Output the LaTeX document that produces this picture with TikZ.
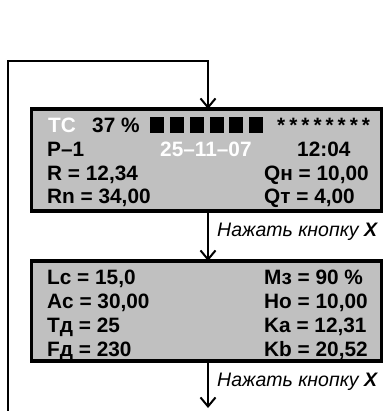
\documentclass[tikz,border=0pt]{standalone}
\usepackage{fontspec}
\setmainfont{Liberation Sans}
\usetikzlibrary{arrows.meta}
\definecolor{panelgray}{RGB}{192,192,192}
\begin{document}
\begin{tikzpicture}[x=1pt,y=-1pt,
  panel/.style={draw=black, fill=panelgray, line width=3.4pt, minimum width=350pt,
    inner sep=0pt, outer sep=0pt},
  txt/.style={anchor=base west, inner sep=0pt, font=\fontsize{20.8}{22}\selectfont\bfseries},
  wtxt/.style={txt, text=white},
  lbl/.style={anchor=base west, inner sep=0pt, font=\fontsize{19.5}{21}\selectfont\itshape},
  flow/.style={line width=2pt, -{Straight Barb[length=9pt,width=15pt,line width=2pt]}},
  blk/.style={fill=black, minimum width=14pt, minimum height=16pt, inner sep=0pt, anchor=north west}
]
\useasboundingbox (0,0) rectangle (384,411);

% display panels
\node[panel, minimum height=102pt] (box1) at (206.5,160) {};
\node[panel, minimum height=100pt] (box2) at (206.5,311) {};

% first screen
\node[wtxt] (tc) at (48,133) {TC};
\node[txt] (pct) at (92,133) {37 \%};
\foreach \i in {0,...,5}
  \node[blk] (b\i) at (150+\i*19.8,117) {};
\foreach \i in {0,...,7}
  \node[txt] (s\i) at (277+\i*12.1,133) {*};
\node[txt] (p1) at (47,157) {P–1};
\node[wtxt] (date) at (160,157) {25–11–07};
\node[txt] (time) at (297,157) {12:04};
\node[txt] (r) at (47,180.5) {R = 12,34};
\node[txt] (qh) at (264,180.5) {Qн = 10,00};
\node[txt] (rn) at (47,204) {Rn = 34,00};
\node[txt] (qt) at (264,204) {Qт = 4,00};

% second screen
\node[txt] (lc) at (47,284) {Lc = 15,0};
\node[txt] (mz) at (264,284) {Mз = 90 \%};
\node[txt] (ac) at (47,308) {Ac = 30,00};
\node[txt] (ho) at (264,308) {Ho = 10,00};
\node[txt] (td) at (47,332) {Tд = 25};
\node[txt] (ka) at (264,332) {Ka = 12,31};
\node[txt] (fd) at (47,356) {Fд = 230};
\node[txt] (kb) at (264,356) {Kb = 20,52};

% flow connectors
\coordinate (loopstart) at (8,411);
\coordinate (looptop) at (208,61);
\coordinate (exit) at (208,408);
\draw[flow] (loopstart) |- (looptop) -- (looptop |- box1.north);
\draw[flow] (box1.south -| looptop) -- (box2.north -| looptop);
\draw[flow] (box2.south -| looptop) -- (exit);

\node[lbl] (l1) at (217,236) {Нажать кнопку \textbf{X}};
\node[lbl] (l2) at (217,386) {Нажать кнопку \textbf{X}};
\end{tikzpicture}
\end{document}
